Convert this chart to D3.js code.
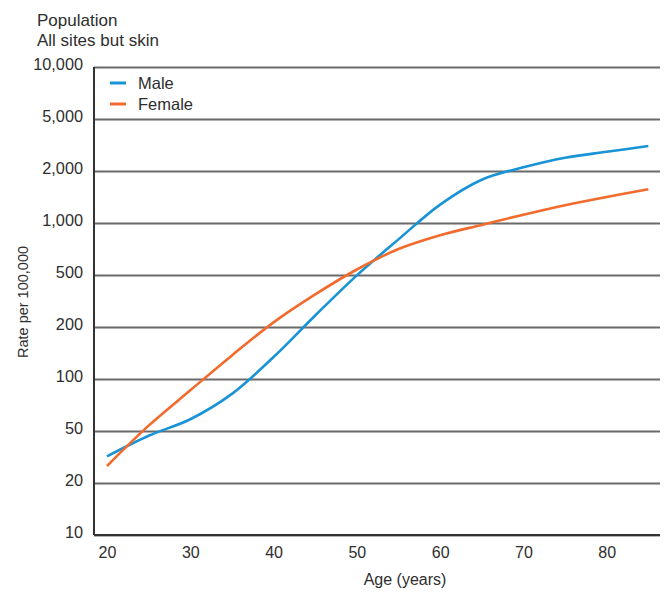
<!DOCTYPE html>
<html>
<head>
<meta charset="utf-8">
<script src="https://cdn.jsdelivr.net/npm/d3@7"></script>
<style>
  body { margin: 0; background: #fff; }
  svg { display: block; font-family: "Liberation Sans", Arial, sans-serif; }
</style>
</head>
<body>
<svg id="chart"></svg>
<script>
// datos
const ages = [20, 25, 30, 35, 40, 45, 50, 55, 60, 65, 70, 75, 80, 85];
const male = [32, 46, 58.5, 82, 134, 245, 497, 804, 1278, 1781, 2135, 2529, 2805, 3108];
const female = [27, 53.7, 86, 137, 217, 355, 538, 707, 850, 975, 1117, 1268, 1416, 1567];
const yTicks = [10, 20, 50, 100, 200, 500, 1000, 2000, 5000, 10000];
const xTicks = [20, 30, 40, 50, 60, 70, 80];

const series = [
  { name: "Male", values: male, color: "#1793d6" },
  { name: "Female", values: female, color: "#f26a2c" }
];

const width = 664;
const height = 594;
const margin = { top: 67, right: 4, bottom: 59, left: 94 };
const innerW = width - margin.left - margin.right;
const innerH = height - margin.top - margin.bottom;

const svg = d3.select("#chart")
  .attr("width", width)
  .attr("height", height);

const g = svg.append("g")
  .attr("transform", `translate(${margin.left},${margin.top})`);

// Escalas
const x = d3.scaleLinear()
  .domain([18.44, 86.4])
  .range([0, innerW]);

// ticks 1-2-5 con espaciado uniforme
const step = innerH / (yTicks.length - 1);
const y = d3.scaleLog()
  .domain(yTicks)
  .range(yTicks.map((d, i) => innerH - i * step));

// Rejilla + eje y
const yAxis = g.append("g")
  .call(d3.axisLeft(y)
    .tickValues(yTicks)
    .tickFormat(d3.format(","))
    .tickSize(-innerW)
    .tickPadding(10));
yAxis.select(".domain").remove();
yAxis.selectAll(".tick line")
  .attr("stroke", "#6a6a6a")
  .attr("stroke-width", 1.8);
yAxis.selectAll(".tick text")
  .attr("fill", "#2e2e2e")
  .attr("font-size", 16.3)
  .attr("dy", "2.8px")
  .attr("x", -11);

// Ejes oscuros
g.append("line")
  .attr("x1", 0).attr("x2", 0)
  .attr("y1", y(10000)).attr("y2", y(10))
  .attr("stroke", "#333").attr("stroke-width", 2);
g.append("line")
  .attr("x1", 0).attr("x2", innerW)
  .attr("y1", y(10)).attr("y2", y(10))
  .attr("stroke", "#333").attr("stroke-width", 2);

// Eje x
const xAxis = g.append("g")
  .attr("transform", `translate(0,${innerH})`)
  .call(d3.axisBottom(x).tickValues(xTicks).tickSize(0).tickPadding(12));
xAxis.select(".domain").remove();
xAxis.selectAll(".tick text")
  .attr("fill", "#2e2e2e")
  .attr("font-size", 16);

// Lineas
const line = d3.line()
  .x((d, i) => x(ages[i]))
  .y(d => y(d))
  .curve(d3.curveCatmullRom.alpha(0.5));

g.selectAll(".serie")
  .data(series)
  .enter()
  .append("path")
  .attr("class", "serie")
  .attr("fill", "none")
  .attr("stroke", d => d.color)
  .attr("stroke-width", 2.6)
  .attr("d", d => line(d.values));

// Leyenda
const legend = svg.append("g")
  .attr("transform", "translate(110,83)");
const item = legend.selectAll("g")
  .data(series)
  .enter()
  .append("g")
  .attr("transform", (d, i) => `translate(0,${i * 21})`);
item.append("line")
  .attr("x1", 0).attr("x2", 16)
  .attr("stroke", d => d.color)
  .attr("stroke-width", 3);
item.append("text")
  .attr("x", 28)
  .attr("y", 5.8)
  .attr("font-size", 16.5)
  .attr("fill", "#2e2e2e")
  .text(d => d.name);

// Titulos
svg.append("text")
  .attr("x", 37).attr("y", 26)
  .attr("font-size", 17).attr("fill", "#2e2e2e")
  .text("Population");
svg.append("text")
  .attr("x", 37).attr("y", 46)
  .attr("font-size", 17).attr("fill", "#2e2e2e")
  .text("All sites but skin");

svg.append("text")
  .attr("x", 405).attr("y", 585)
  .attr("text-anchor", "middle")
  .attr("font-size", 16).attr("fill", "#2e2e2e")
  .text("Age (years)");

svg.append("text")
  .attr("transform", "translate(28,302) rotate(-90)")
  .attr("text-anchor", "middle")
  .attr("font-size", 14.5).attr("fill", "#2e2e2e")
  .text("Rate per 100,000");
</script>
</body>
</html>
